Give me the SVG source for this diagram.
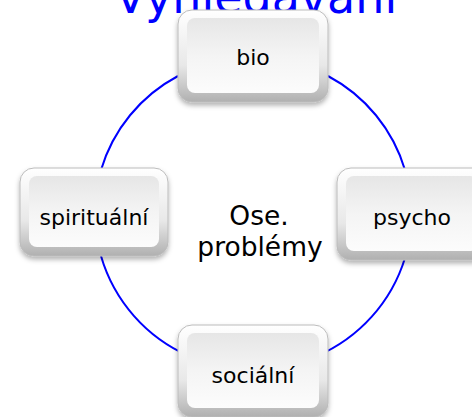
<svg xmlns="http://www.w3.org/2000/svg" width="472" height="417" viewBox="0 0 472 417">
  <defs>
    <linearGradient id="rim" x1="0" y1="0" x2="0" y2="1">
      <stop offset="0" stop-color="#ffffff"/>
      <stop offset="0.6" stop-color="#e8e8e8"/>
      <stop offset="1" stop-color="#b0b0b0"/>
    </linearGradient>
    <linearGradient id="face" x1="0" y1="0" x2="0" y2="1">
      <stop offset="0" stop-color="#e6e6e6"/>
      <stop offset="0.5" stop-color="#f4f4f4"/>
      <stop offset="1" stop-color="#fcfcfc"/>
    </linearGradient>
    <filter id="shadow" x="-20%" y="-20%" width="140%" height="150%">
      <feDropShadow dx="0" dy="3" stdDeviation="2.5" flood-color="#000" flood-opacity="0.3"/>
    </filter>
  </defs>
  <style>
    .title { font-family: "DejaVu Sans", Verdana, sans-serif; font-size: 46px; fill: #0000ff; text-anchor: middle; }
    .rim { fill: url(#rim); stroke: #bcbcbc; stroke-width: 1; filter: url(#shadow); }
    .face { fill: url(#face); }
    .label { font-family: "DejaVu Sans", Verdana, sans-serif; font-size: 22px; fill: #000; text-anchor: middle; }
    .center { font-family: "DejaVu Sans", Verdana, sans-serif; font-size: 26.5px; fill: #000; text-anchor: middle; }
    .arc { fill: none; stroke: #0000ff; stroke-width: 2; }
  </style>

  <rect width="472" height="417" fill="#ffffff"/>

  <text class="title" x="256" y="13">Vyhledávání</text>

  <!-- circular cycle connecting the four boxes -->
  <g id="connectors">
    <path class="arc" d="M 178 76 A 157 157 0 0 0 101 170"/>
    <path class="arc" d="M 328 76 A 157 157 0 0 1 405 170"/>
    <path class="arc" d="M 405 258 A 157 157 0 0 1 317 356"/>
    <path class="arc" d="M 101 256 A 157 157 0 0 0 189 356"/>
  </g>

  <text class="center" x="259" y="225">Ose.</text>
  <text class="center" x="260" y="256">problémy</text>

  <g id="node-bio">
    <rect class="rim" x="178" y="10" width="150" height="92" rx="14"/>
    <rect class="face" x="187" y="18" width="132" height="75" rx="8"/>
    <text class="label" x="253" y="65">bio</text>
  </g>

  <g id="node-psycho">
    <rect class="rim" x="337" y="168" width="150" height="92" rx="14"/>
    <rect class="face" x="346" y="176" width="132" height="75" rx="8"/>
    <text class="label" x="412" y="225">psycho</text>
  </g>

  <g id="node-socialni">
    <rect class="rim" x="178" y="325" width="150" height="92" rx="14"/>
    <rect class="face" x="187" y="333" width="132" height="75" rx="8"/>
    <text class="label" x="253" y="383">sociální</text>
  </g>

  <g id="node-spiritualni">
    <rect class="rim" x="20" y="168" width="148" height="88" rx="14"/>
    <rect class="face" x="29" y="176" width="130" height="71" rx="8"/>
    <text class="label" x="94" y="225">spirituální</text>
  </g>
</svg>
